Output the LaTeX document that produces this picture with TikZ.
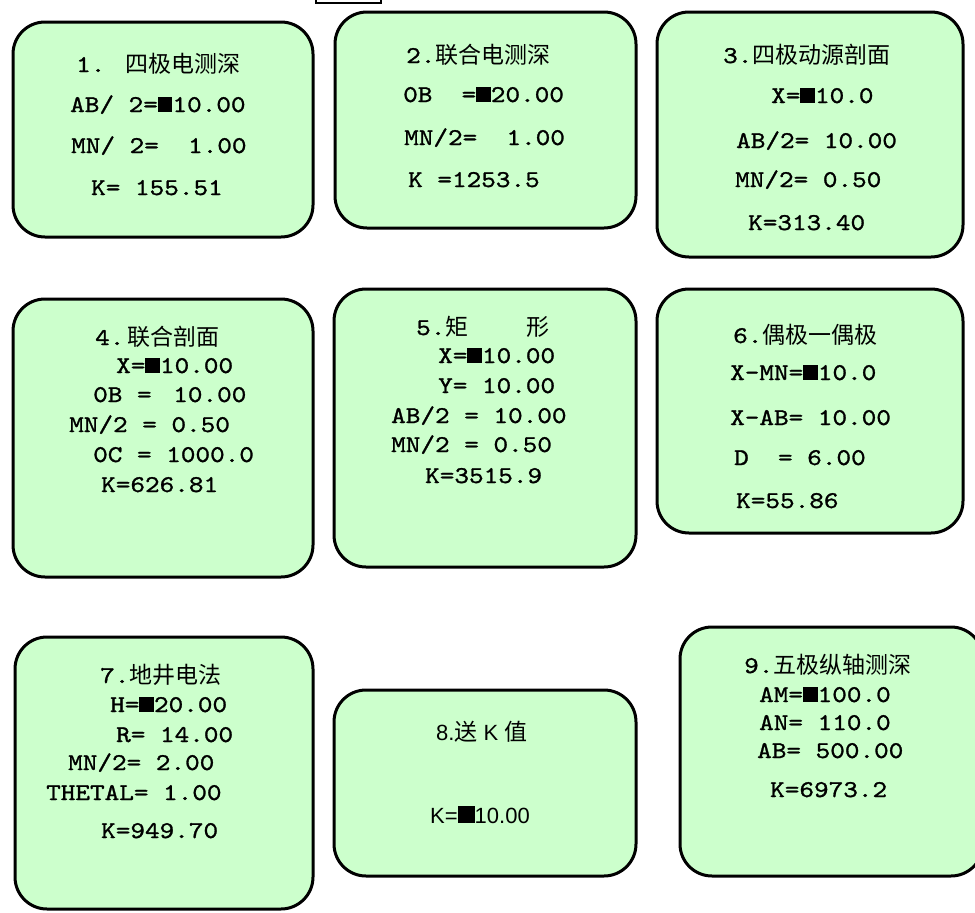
\documentclass[tikz,border=0pt]{standalone}
\usepackage{fontspec}
\setmainfont{lmmono10-regular.otf}[FakeStretch=1.16, FakeBold=1.2]
\newfontfamily\cjk{Noto Sans CJK SC}
\newfontfamily\sansf{Liberation Sans}
\frenchspacing
\definecolor{panelgreen}{RGB}{204,255,204}
\tikzset{
  panel/.style={draw=black, line width=3pt, fill=panelgreen, rounded corners=32pt, inner sep=0pt},
  txt/.style={anchor=base west, inner sep=0pt, font=\fontsize{24}{24}\selectfont},
  stxt/.style={anchor=base west, inner sep=0pt, font=\sansf\fontsize{22}{22}\selectfont},
}
\newcommand\blk{\rule{14.6pt}{15pt}}
\newcommand\zh[1]{{\cjk\fontsize{23}{23}\selectfont #1}}
\newcommand\panel[5]{\node[panel, minimum width={(#4-#2)*1pt}, minimum height={(#5-#3)*1pt}] (#1) at ({(#2+#4)/2},{(#3+#5)/2}) {};}
\begin{document}
\begin{tikzpicture}[x=1pt,y=-1pt]
\useasboundingbox (0,0) rectangle (975,913);
% top fragment
\draw[line width=1.5pt] (316,-5) rectangle (381,3);
% panels
\panel{p1}{13}{22}{313}{237}
\panel{p2}{335}{12}{636}{228}
\panel{p3}{657}{12}{963}{257}
\panel{p4}{13}{299}{313}{577}
\panel{p5}{334}{289}{636}{567}
\panel{p6}{657}{289}{963}{533}
\panel{p7}{15}{637}{313}{909}
\panel{p8}{334}{690}{636}{876}
\panel{p9}{680}{627}{983}{876}
% panel 1
\node[txt] (t11) at (76,72) {1.~\kern5pt\zh{四极电测深}};
\node[txt] (t12) at (70,112) {AB/~2=\blk 10.00};
\node[txt] (t13) at (71,153) {MN/~2=~~1.00};
\node[txt] (t14) at (91,195) {K=~155.51};
% panel 2
\node[txt] (t21) at (406,63) {2.\zh{联合电测深}};
\node[txt] (t22) at (403,102) {0B~~=\blk 20.00};
\node[txt] (t23) at (404,145) {MN/2=~~1.00};
\node[txt] (t24) at (408,187) {K~=1253.5};
% panel 3
\node[txt] (t31) at (723,63) {3.\zh{四极动源剖面}};
\node[txt] (t32) at (771,103) {X=\blk 10.0};
\node[txt] (t33) at (736,148) {AB/2=~10.00};
\node[txt] (t34) at (735,187) {MN/2=~0.50};
\node[txt] (t35) at (748,230) {K=313.40};
% panel 4
\node[txt] (t41) at (95,345) {4.\kern3pt\zh{联合剖面}};
\node[txt] (t42) at (116,373) {X=\blk 10.00};
\node[txt] (t43) at (93,402) {0B~=~\kern7pt10.00};
\node[txt] (t44) at (69,432) {MN/2~=~0.50};
\node[txt] (t45) at (93,462) {0C~=~1000.0};
\node[txt] (t46) at (101,492) {K=626.81};
% panel 5
\node[txt] (t51) at (416,335) {5.\zh{矩}~~~~\zh{形}};
\node[txt] (t52) at (438,363) {X=\blk 10.00};
\node[txt] (t53) at (438,393) {Y=~10.00};
\node[txt] (t54) at (391,423) {AB/2~=~10.00};
\node[txt] (t55) at (391,452) {MN/2~=~0.50};
\node[txt] (t56) at (425,483) {K=3515.9};
% panel 6
\node[txt] (t61) at (733,343) {6.\zh{偶极一偶极}};
\node[txt] (t62) at (730,380) {X-MN=\blk 10.0};
\node[txt] (t63) at (730,425) {X-AB=~10.00};
\node[txt] (t64) at (734,465) {D~~=~6.00};
\node[txt] (t65) at (736,508) {K=55.86};
% panel 7
\node[txt] (t71) at (100,683) {7.\zh{地井电法}};
\node[txt] (t72) at (110,712) {H=\blk 20.00};
\node[txt] (t73) at (116,742) {R=~14.00};
\node[txt] (t74) at (68,770) {MN/2=~2.00};
\node[txt] (t75) at (46,800) {THETAL=~1.00};
\node[txt] (t76) at (101,838) {K=949.70};
% panel 8
\node[stxt] (t81) at (436,740) {8.\zh{送}~K~\zh{值}};
\node[stxt] (t82) at (430,823) {K=\rule{17pt}{17pt}10.00};
% panel 9
\node[txt] (t91) at (744,673) {9.\zh{五极纵轴测深}};
\node[txt] (t92) at (759,702) {AM=\blk 100.0};
\node[txt] (t93) at (759,730) {AN=~110.0};
\node[txt] (t94) at (757,758) {AB=~500.00};
\node[txt] (t95) at (770,797) {K=6973.2};
\end{tikzpicture}
\end{document}
